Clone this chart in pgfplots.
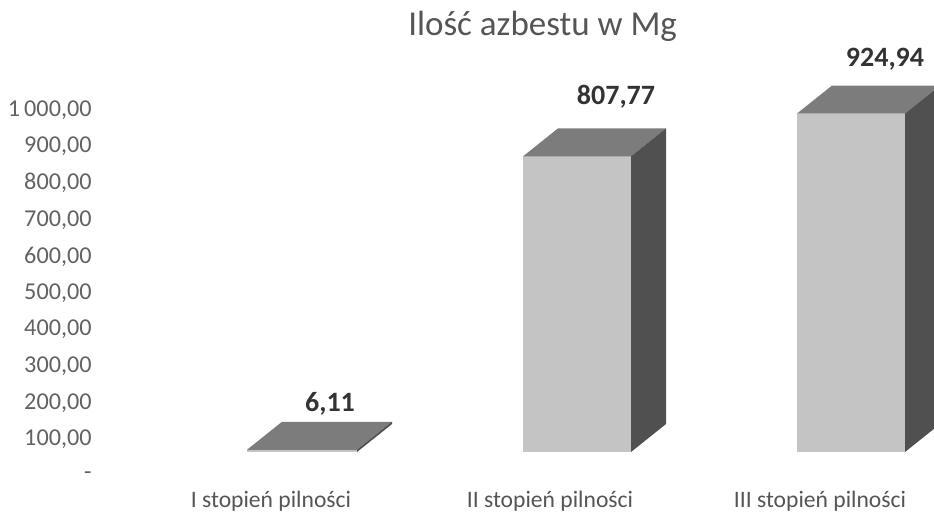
\documentclass[border=0pt]{standalone}
\usepackage{fontspec}
\setmainfont{Carlito}
\usepackage{pgfplots}
\pgfplotsset{compat=1.18}
\definecolor{frontc}{HTML}{C4C4C4}
\definecolor{topc}{HTML}{7C7C7C}
\definecolor{sidec}{HTML}{505050}
\definecolor{tickc}{HTML}{626262}
\definecolor{titlec}{HTML}{555555}
\definecolor{labc}{HTML}{333333}
\begin{document}
\begin{tikzpicture}
\begin{axis}[
  scale only axis, width=467pt, height=256pt,
  xmin=0, xmax=934, ymin=-103.83, ymax=1295.08,
  axis line style={draw=none}, tick style={draw=none}, major tick length=0pt,
  clip=true,
  /pgf/number format/assume math mode=true,
  ytick={0,100,200,300,400,500,600,700,800,900,1000},
  yticklabels={{-},{100,00},{200,00},{300,00},{400,00},{500,00},{600,00},{700,00},{800,00},{900,00},{1\,000,00}},
  yticklabel style={anchor=east, inner sep=0pt, xshift=46pt, yshift=-1pt, font=\fontsize{12.1}{14}\selectfont, text=tickc},
  xtick={271,550,820},
  xticklabels={{I stopień pilności},{II stopień pilności},{III stopień pilności}},
  xticklabel style={anchor=base, inner sep=0pt, yshift=2pt, font=\fontsize{11.8}{13}\selectfont, text=titlec},
  title={Ilość azbestu w Mg},
  title style={at={(0.581,1)}, anchor=base, inner sep=0pt, yshift=-24pt, font=\fontsize{17.5}{20}\selectfont, text=titlec},
]
% bar 1 (6.11)
\addplot[fill=frontc, draw=none] coordinates {(247,60) (357,60) (357,66.11) (247,66.11)} -- cycle;
\addplot[fill=topc, draw=none] coordinates {(247,66.11) (357,66.11) (392,142.61) (282,142.61)} -- cycle;
\addplot[fill=sidec, draw=none] coordinates {(357,60) (392,136.5) (392,142.61) (357,66.11)} -- cycle;
% bar 2 (807.77)
\addplot[fill=frontc, draw=none] coordinates {(523,60) (631,60) (631,867.77) (523,867.77)} -- cycle;
\addplot[fill=topc, draw=none] coordinates {(523,867.77) (631,867.77) (666,944.27) (558,944.27)} -- cycle;
\addplot[fill=sidec, draw=none] coordinates {(631,60) (666,136.5) (666,944.27) (631,867.77)} -- cycle;
% bar 3 (924.94)
\addplot[fill=frontc, draw=none] coordinates {(797,60) (905,60) (905,984.94) (797,984.94)} -- cycle;
\addplot[fill=topc, draw=none] coordinates {(797,984.94) (905,984.94) (940,1061.44) (832,1061.44)} -- cycle;
\addplot[fill=sidec, draw=none] coordinates {(905,60) (940,136.5) (940,1061.44) (905,984.94)} -- cycle;
% data labels
\addplot[draw=none, mark=none, point meta=explicit,
  nodes near coords={\pgfmathprintnumber[fixed,fixed zerofill,precision=2,use comma]{\pgfplotspointmeta}},
  nodes near coords style={anchor=base, inner sep=0pt, font=\bfseries\fontsize{14}{16}\selectfont, text=labc}]
  coordinates {(330,169.4) [6.11] (616,1008.2) [807.77] (885,1112.0) [924.94]};
\end{axis}
\end{tikzpicture}
\end{document}
